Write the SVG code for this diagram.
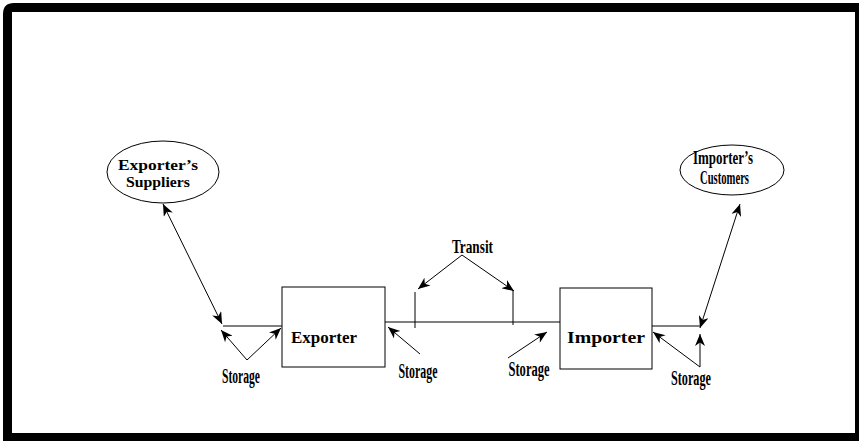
<svg xmlns="http://www.w3.org/2000/svg" width="860" height="441" viewBox="0 0 860 441">
  <style>
    .line { stroke: #000; stroke-width: 1; fill: none; }
    .box { stroke: #000; stroke-width: 1; fill: #fff; }
    .lbl { font-family: "Liberation Serif", "Times New Roman", serif; font-weight: bold; fill: #000; }
    .cond { font-size: 20px; }
    .mid { text-anchor: middle; }
  </style>
  <defs>
    <marker id="head" viewBox="0 0 12 10" refX="12" refY="5" markerWidth="13" markerHeight="10" markerUnits="userSpaceOnUse" orient="auto-start-reverse">
      <path d="M0,0 L12,5 L0,10 L3.5,5 z" fill="#000"/>
    </marker>
  </defs>

  <rect width="860" height="441" fill="#fff"/>
  <!-- heavy outer frame -->
  <path fill="#000" fill-rule="evenodd" d="M3,14 Q3,3 14,3 L859,3 L859,441 L3,441 z M12,12 L855,12 L855,433 L12,433 z"/>

  <g id="connectors">
    <!-- supplier link and exporter-side storage -->
    <line class="line" x1="223" y1="326" x2="282" y2="326"/>
    <line class="line" x1="163" y1="204" x2="222" y2="324" marker-start="url(#head)" marker-end="url(#head)"/>
    <line class="line" x1="247" y1="360" x2="221" y2="330" marker-end="url(#head)"/>
    <line class="line" x1="247" y1="360" x2="281" y2="328" marker-end="url(#head)"/>

    <!-- transit route between exporter and importer -->
    <line class="line" x1="385" y1="322" x2="560" y2="322"/>
    <line class="line" x1="415" y1="292" x2="415" y2="328"/>
    <line class="line" x1="513" y1="290" x2="513" y2="325"/>
    <line class="line" x1="462" y1="255" x2="418" y2="289" marker-end="url(#head)"/>
    <line class="line" x1="462" y1="255" x2="514" y2="291" marker-end="url(#head)"/>
    <line class="line" x1="420" y1="354" x2="388" y2="327" marker-end="url(#head)"/>
    <line class="line" x1="508" y1="358" x2="547" y2="332" marker-end="url(#head)"/>

    <!-- customer link and importer-side storage -->
    <line class="line" x1="652" y1="326" x2="700" y2="326"/>
    <line class="line" x1="700" y1="328" x2="740" y2="204" marker-start="url(#head)" marker-end="url(#head)"/>
    <line class="line" x1="700" y1="367" x2="700" y2="334" marker-end="url(#head)"/>
    <line class="line" x1="700" y1="367" x2="653" y2="332" marker-end="url(#head)"/>
  </g>

  <g id="suppliers">
    <ellipse class="box" cx="163" cy="172" rx="56" ry="31"/>
    <text class="lbl mid" x="158" y="170" font-size="15" textLength="80" lengthAdjust="spacingAndGlyphs">Exporter’s</text>
    <text class="lbl mid" x="158" y="186.5" font-size="15" textLength="64" lengthAdjust="spacingAndGlyphs">Suppliers</text>
  </g>

  <g id="customers">
    <ellipse class="box" cx="732" cy="170" rx="52" ry="25"/>
    <text class="lbl mid" x="723" y="164" font-size="18" textLength="60" lengthAdjust="spacingAndGlyphs">Importer’s</text>
    <text class="lbl mid" x="724.5" y="184" font-size="18" textLength="49" lengthAdjust="spacingAndGlyphs">Customers</text>
  </g>

  <g id="exporter">
    <rect class="box" x="282" y="287" width="103" height="80"/>
    <text class="lbl" x="291" y="343" font-size="17" textLength="66" lengthAdjust="spacingAndGlyphs">Exporter</text>
  </g>

  <g id="importer">
    <rect class="box" x="560" y="288" width="92" height="81"/>
    <text class="lbl" x="567" y="343" font-size="17" textLength="78" lengthAdjust="spacingAndGlyphs">Importer</text>
  </g>

  <g id="transit">
    <text class="lbl mid" x="472.5" y="253" font-size="18" textLength="41" lengthAdjust="spacingAndGlyphs">Transit</text>
  </g>

  <g id="storage-labels">
    <text class="lbl mid cond" x="241" y="383" textLength="38" lengthAdjust="spacingAndGlyphs">Storage</text>
    <text class="lbl mid cond" x="418" y="378" textLength="39" lengthAdjust="spacingAndGlyphs">Storage</text>
    <text class="lbl mid cond" x="529" y="376" textLength="41" lengthAdjust="spacingAndGlyphs">Storage</text>
    <text class="lbl mid cond" x="691" y="385" textLength="40" lengthAdjust="spacingAndGlyphs">Storage</text>
  </g>
</svg>
